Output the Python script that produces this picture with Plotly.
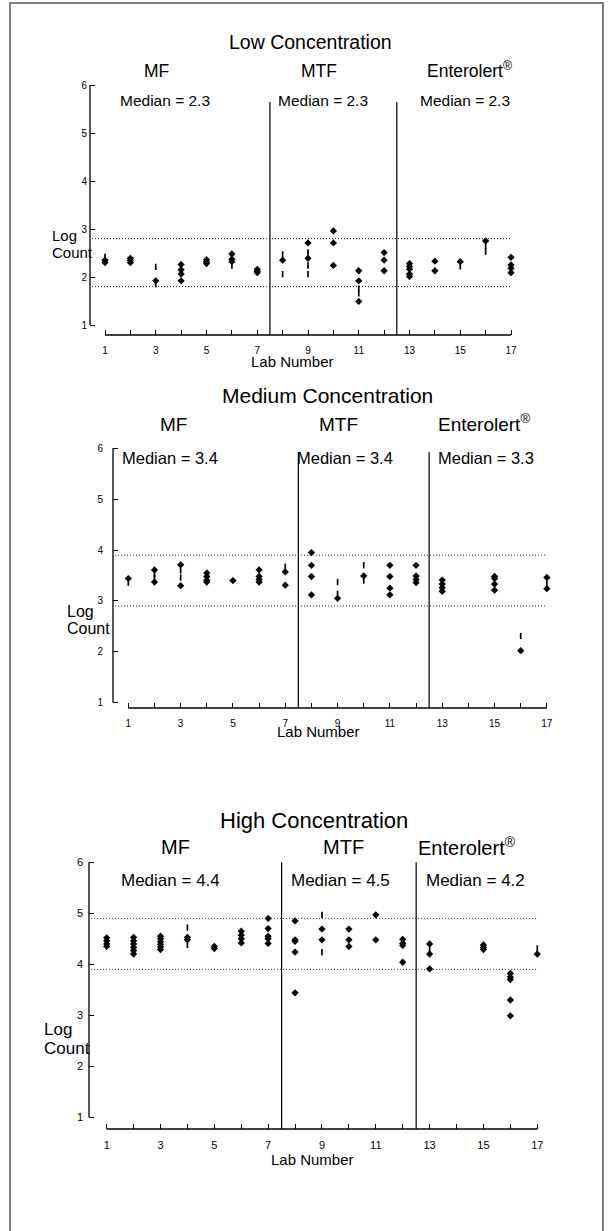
import plotly.graph_objects as go

W, H = 613, 1231
FONT = "Liberation Sans, Arial, Helvetica, sans-serif"

# ---------------- data ----------------
labs = list(range(1, 18))
labeled_labs = [n for n in labs if n % 2 == 1]
unlabeled_labs = [n for n in labs if n % 2 == 0]
x_tick_text = [str(n) for n in labeled_labs]
y_tick_vals = [1, 2, 3, 4, 5, 6]
y_tick_text = ["1", "2", "3", "4", "5", "6"]

panel_titles = ["Low Concentration", "Medium Concentration", "High Concentration"]
method_names = ["MF", "MTF", "Enterolert<sup>®</sup>"]
median_values = [[2.3, 2.3, 2.3], [3.4, 3.4, 3.3], [4.4, 4.5, 4.2]]
band_upper = [2.8, 3.9, 4.9]
band_lower = [1.8, 2.9, 3.9]
method_breaks = [7.5, 12.5]

# Low concentration (diamonds)
low_lab = [1, 1, 2, 2, 2, 3, 4, 4, 4, 4, 5, 5, 5, 6, 6, 6, 7, 7, 7, 8, 9, 9,
           10, 10, 10, 11, 11, 11, 12, 12, 12, 13, 13, 13, 13, 13, 14, 14, 15, 16,
           17, 17, 17, 17]
low_val = [2.35, 2.30, 2.39, 2.35, 2.30, 1.92, 2.26, 2.15, 2.06, 1.92, 2.36, 2.32, 2.28,
           2.48, 2.37, 2.32, 2.16, 2.12, 2.09, 2.35, 2.71, 2.39, 2.96, 2.71, 2.24,
           2.13, 1.92, 1.49, 2.51, 2.35, 2.13, 2.28, 2.22, 2.16, 2.06, 2.01, 2.33, 2.13,
           2.32, 2.75, 2.41, 2.25, 2.18, 2.09]
# Low concentration (bar symbols)
low_bar_lab = [1, 3, 3, 6, 8, 8, 9, 9, 9, 11, 11, 15, 16, 16]
low_bar_val = [2.42, 2.21, 1.85, 2.24, 2.47, 2.06, 2.51, 2.24, 2.06, 1.76, 1.66, 2.22, 2.65, 2.53]

# Medium concentration (diamonds)
mid_lab = [1, 2, 2, 3, 3, 4, 4, 4, 4, 5, 6, 6, 6, 6, 7, 7, 8, 8, 8, 8, 9, 10,
           11, 11, 11, 11, 12, 12, 12, 12, 13, 13, 13, 13, 15, 15, 15, 15, 16, 17, 17]
mid_val = [3.44, 3.61, 3.37, 3.71, 3.30, 3.55, 3.48, 3.41, 3.37, 3.40, 3.61, 3.48, 3.42, 3.37,
           3.57, 3.31, 3.95, 3.70, 3.48, 3.12, 3.05, 3.49, 3.70, 3.48, 3.25, 3.12,
           3.70, 3.49, 3.42, 3.36, 3.41, 3.33, 3.26, 3.19, 3.48, 3.44, 3.33, 3.21, 2.02,
           3.46, 3.24]
# Medium concentration (bar symbols)
mid_bar_lab = [1, 2, 2, 3, 3, 7, 9, 9, 10, 10, 16, 17]
mid_bar_val = [3.36, 3.53, 3.45, 3.60, 3.46, 3.67, 3.37, 3.14, 3.70, 3.40, 2.31, 3.34]

# High concentration (diamonds)
high_lab = [1, 1, 1, 1, 2, 2, 2, 2, 2, 2, 3, 3, 3, 3, 3, 3, 4, 4, 5, 5, 6, 6, 6, 6,
            7, 7, 7, 7, 7, 8, 8, 8, 8, 8, 9, 9, 10, 10, 10, 11, 11, 12, 12, 12, 12,
            13, 13, 13, 15, 15, 15, 16, 16, 16, 16, 16, 17]
high_val = [4.52, 4.46, 4.40, 4.35, 4.53, 4.46, 4.40, 4.33, 4.27, 4.20,
            4.55, 4.50, 4.44, 4.39, 4.34, 4.29, 4.53, 4.48, 4.35, 4.31,
            4.65, 4.57, 4.50, 4.42, 4.90, 4.70, 4.55, 4.50, 4.41,
            4.85, 4.48, 4.45, 4.24, 3.44, 4.69, 4.48, 4.69, 4.48, 4.35, 4.97, 4.48,
            4.49, 4.41, 4.37, 4.04, 4.40, 4.20, 3.91, 4.38, 4.33, 4.29,
            3.82, 3.75, 3.70, 3.30, 2.99, 4.20]
# High concentration (bar symbols)
high_bar_lab = [4, 4, 9, 9, 13, 17]
high_bar_val = [4.72, 4.38, 4.97, 4.24, 4.30, 4.31]

diamond_sets = [(low_lab, low_val), (mid_lab, mid_val), (high_lab, high_val)]
bar_sets = [(low_bar_lab, low_bar_val), (mid_bar_lab, mid_bar_val), (high_bar_lab, high_bar_val)]

# ---------------- layout geometry (pixels) ----------------
panels = [
    dict(lab1=105.0, step=25.375, one=325.0, unit=48.0, yax=90.0, xax=335.0, div_top=102.0,
         title=(310, 42), title_size=19.5, groups=[(156, 71), (319, 71), (469, 70)], group_size=17.5,
         meds=[(165, 100), (323, 100), (465, 100)], med_size=15.5, log_x=50, log_y=(235, 253),
         log_size=15, tick_size=10, ystand=2, xstand=8, labnum=(292, 361), labnum_size=15),
    dict(lab1=128.3, step=26.16, one=702.6, unit=50.85, yax=113.0, xax=708.0, div_top=452.0,
         title=(327, 395), title_size=21, groups=[(173, 424), (338, 424), (484, 423)], group_size=19,
         meds=[(170, 458), (345, 458), (486, 458)], med_size=16.5, log_x=65, log_y=(611, 628),
         log_size=16, tick_size=10, ystand=9, xstand=8, labnum=(318, 731), labnum_size=15),
    dict(lab1=106.7, step=26.91, one=1117.3, unit=51.0, yax=89.0, xax=1129.0, div_top=862.3,
         title=(314, 820), title_size=22, groups=[(175, 847), (343, 847), (467, 846)], group_size=20,
         meds=[(170, 880), (340, 880), (475, 880)], med_size=17, log_x=42, log_y=(1029, 1048),
         log_size=17, tick_size=11, ystand=5, xstand=8, labnum=(313, 1159), labnum_size=15),
]

fig = go.Figure()
layout = dict(width=W, height=H, margin=dict(l=0, r=0, t=0, b=0),
              paper_bgcolor="white", plot_bgcolor="white", showlegend=False,
              font=dict(family=FONT, color="black"))
shapes, annotations = [], []


def px_x(p):
    return p / W


def px_y(p):
    return 1 - p / H


for i, g in enumerate(panels):
    n = "" if i == 0 else str(i + 1)
    xl = g["yax"]
    xr = g["lab1"] + 16 * g["step"] + 8
    yb = g["xax"]
    yt = g["one"] - 5 * g["unit"] - 6
    xrange_ = [1 + (xl - g["lab1"]) / g["step"], 1 + (xr - g["lab1"]) / g["step"]]
    yrange_ = [1 - (yb - g["one"]) / g["unit"], 1 + (g["one"] - yt) / g["unit"]]

    layout["xaxis" + n] = dict(
        domain=[px_x(xl), px_x(xr)], range=xrange_, anchor="y" + n,
        tickmode="array", tickvals=labeled_labs, ticktext=x_tick_text,
        ticks="inside", ticklen=5, tickwidth=1, tickcolor="black",
        minor=dict(tickmode="array", tickvals=unlabeled_labs, ticks="inside",
                   ticklen=5, tickwidth=1, tickcolor="black", showgrid=False),
        showgrid=False, zeroline=False, showline=False, fixedrange=True,
        tickfont=dict(size=g["tick_size"], family=FONT, color="black"),
        ticklabelstandoff=g["xstand"])
    layout["yaxis" + n] = dict(
        domain=[px_y(yb), px_y(yt)], range=yrange_, anchor="x" + n,
        tickmode="array", tickvals=y_tick_vals, ticktext=y_tick_text,
        ticks="inside", ticklen=5, tickwidth=1, tickcolor="black",
        showgrid=False, zeroline=False, showline=False, fixedrange=True,
        tickfont=dict(size=g["tick_size"], family=FONT, color="black"),
        ticklabelstandoff=g["ystand"])

    xref, yref = "x" + n, "y" + n

    # detached axis lines
    y_top_px = g["one"] - (y_tick_vals[-1] - 1) * g["unit"]
    shapes.append(dict(type="line", xref="paper", yref="paper",
                       x0=px_x(xl), x1=px_x(xl), y0=px_y(g["one"]), y1=px_y(y_top_px),
                       line=dict(color="black", width=1.3)))
    x_end_px = g["lab1"] + (labs[-1] - 1) * g["step"]
    shapes.append(dict(type="line", xref="paper", yref="paper",
                       x0=px_x(g["lab1"]), x1=px_x(x_end_px), y0=px_y(yb), y1=px_y(yb),
                       line=dict(color="black", width=1.3)))

    # method dividers
    div_top_val = 1 + (g["one"] - g["div_top"]) / g["unit"]
    for b in method_breaks:
        shapes.append(dict(type="line", xref=xref, yref=yref, x0=b, x1=b,
                           y0=yrange_[0], y1=div_top_val,
                           line=dict(color="black", width=1.2)))

    # dotted acceptance band
    for v in (band_upper[i], band_lower[i]):
        shapes.append(dict(type="line", xref=xref, yref=yref,
                           x0=xrange_[0] + 0.08, x1=labs[-1], y0=v, y1=v,
                           line=dict(color="#222222", width=1, dash="1px,2px")))

    # diamonds
    dx, dy = diamond_sets[i]
    fig.add_trace(go.Scatter(x=dx, y=dy, mode="markers", xaxis=xref, yaxis=yref,
                             marker=dict(symbol="diamond", size=5.6, color="black",
                                         line=dict(width=0)),
                             cliponaxis=False, hoverinfo="skip"))
    bx, by = bar_sets[i]
    fig.add_trace(go.Scatter(x=bx, y=by, mode="markers", xaxis=xref, yaxis=yref,
                             marker=dict(symbol="line-ns", size=4.5, color="black",
                                         line=dict(width=1.7, color="black")),
                             cliponaxis=False, hoverinfo="skip"))

    # texts
    annotations.append(dict(text=panel_titles[i], xref="paper", yref="paper",
                            x=px_x(g["title"][0]), y=px_y(g["title"][1]),
                            xanchor="center", yanchor="middle", showarrow=False,
                            font=dict(size=g["title_size"], family=FONT, color="black")))
    for (gx, gy), name in zip(g["groups"], method_names):
        annotations.append(dict(text=name, xref="paper", yref="paper",
                                x=px_x(gx), y=px_y(gy), xanchor="center", yanchor="middle",
                                showarrow=False,
                                font=dict(size=g["group_size"], family=FONT, color="black")))
    for (mx, my), mv in zip(g["meds"], median_values[i]):
        annotations.append(dict(text=f"Median = {mv:.1f}", xref="paper", yref="paper",
                                x=px_x(mx), y=px_y(my), xanchor="center", yanchor="middle",
                                showarrow=False,
                                font=dict(size=g["med_size"], family=FONT, color="black")))
    for word, wy in zip(["Log", "Count"], g["log_y"]):
        annotations.append(dict(text=word, xref="paper", yref="paper",
                                x=px_x(g["log_x"]), y=px_y(wy), xanchor="left", yanchor="middle",
                                showarrow=False,
                                font=dict(size=g["log_size"], family=FONT, color="black")))
    annotations.append(dict(text="Lab Number", xref="paper", yref="paper",
                            x=px_x(g["labnum"][0]), y=px_y(g["labnum"][1]),
                            xanchor="center", yanchor="middle", showarrow=False,
                            font=dict(size=g["labnum_size"], family=FONT, color="black")))

# page frame
shapes.append(dict(type="rect", xref="paper", yref="paper",
                   x0=px_x(10), x1=px_x(603), y0=px_y(1240), y1=px_y(3),
                   line=dict(color="#555555", width=1.5), fillcolor="rgba(0,0,0,0)"))

layout["shapes"] = shapes
layout["annotations"] = annotations
fig.update_layout(**layout)
fig.write_html("out.html",
               config={"displayModeBar": False, "staticPlot": True},
               post_script="document.body.style.margin='0';document.body.style.overflow='hidden';")
